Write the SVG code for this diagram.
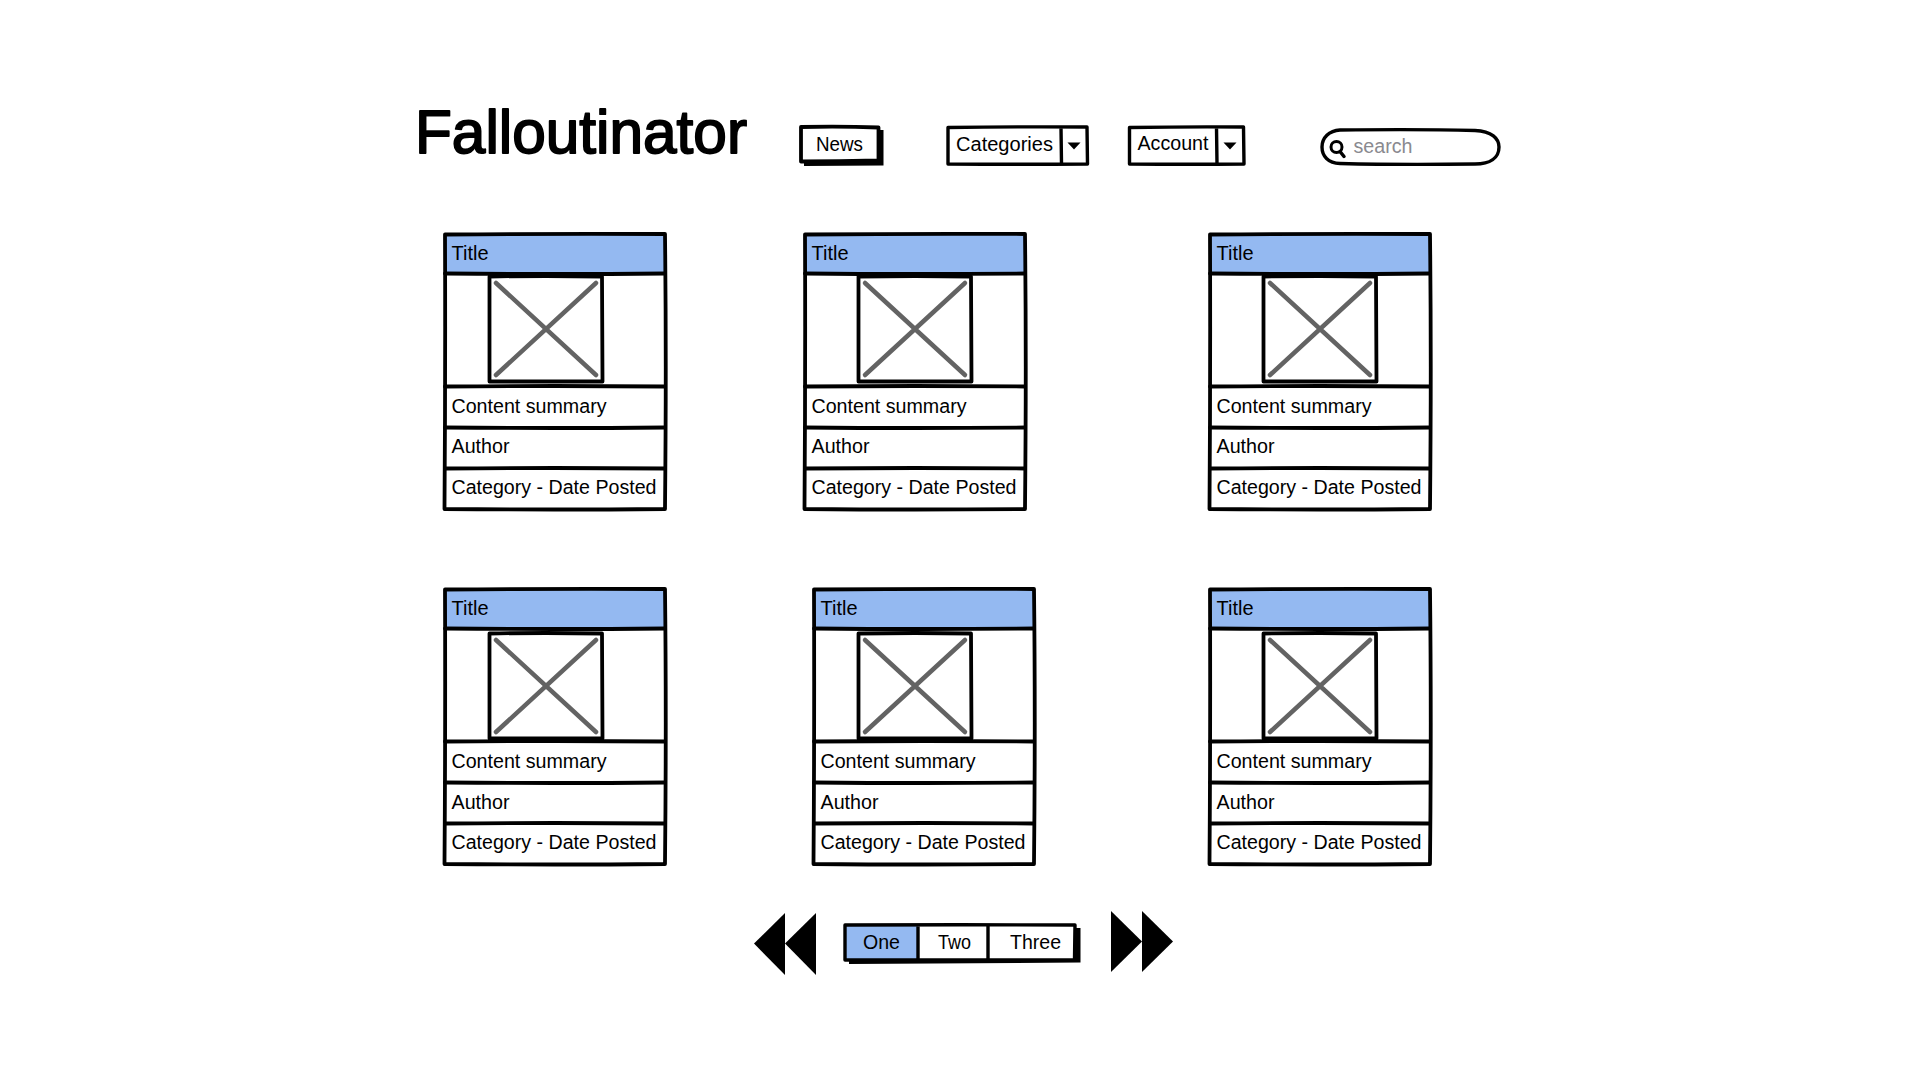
<svg xmlns="http://www.w3.org/2000/svg" width="1920" height="1080" viewBox="0 0 1920 1080">
<style>
text{font-family:"Liberation Sans",Arial,sans-serif;font-size:20px;fill:#000}
.ln{fill:none;stroke:#000;stroke-width:3.4;stroke-linejoin:round;stroke-linecap:round}
.th{stroke-width:3.8}
.wh{fill:#fff}
.bl{fill:#94b9f1}
.x{fill:none;stroke:#636363;stroke-width:4.500;stroke-linecap:round}
.h{font-size:61px;stroke:#000;stroke-width:1.800;stroke-linejoin:round}
</style>
<defs>
<g id="frame">
<path class="wh" d="M1 1L222 1L222 276L1 276Z"/>
<path class="bl" d="M1 1L222 1L222 40L1 40Z"/>
<path class="ln th" d="M1 1.500Q110 0.500 221 1Q222.500 130 221 276Q110 277 0.500 276Q1.500 140 1 1.500Z"/>
<path class="ln th" d="M1 40.500Q110 41.500 221 40.500M1 153.500Q110 152.500 221 153.500M1 194.500Q110 195.500 221 194.500M1 235.500Q110 234.500 221 235.500"/>
</g>
<g id="img">
<path class="wh" d="M0 0H114V106H0Z"/>
<path class="ln th" d="M0.500 0.500Q57 -0.500 113 0.500L113.500 105.500L0.500 105.500Z"/>
<path class="x" d="M7 7L107 99M107 7L7 99"/>
</g>
</defs>

<g id="logo"><text class="h" x="415" y="153" textLength="332" lengthAdjust="spacingAndGlyphs">Falloutinator</text></g>

<g id="news">
<path d="M804 130H883.500V165.500L804 166Z"/>
<path class="wh" d="M801 127H878V161H801Z"/>
<path class="ln th" d="M801 127Q840 126 878.500 127.500L878.500 160.500Q840 161.500 801 161.500Z"/>
<text x="816" y="151" textLength="47" lengthAdjust="spacingAndGlyphs">News</text>
</g>

<g id="categories">
<path class="wh" d="M948 127H1087V164H948Z"/>
<path class="ln" d="M948 127.500Q1020 126.500 1087 127L1087.500 164Q1020 164.500 948 164ZM1061 127.500L1061.500 164"/>
<path d="M1067.500 142.500H1080.500L1074 149.500Z"/>
<text x="956" y="151" textLength="97" lengthAdjust="spacingAndGlyphs">Categories</text>
</g>

<g id="account">
<path class="wh" d="M1129 127H1243V164H1129Z"/>
<path class="ln" d="M1129.500 127.500Q1190 126.500 1243.500 127L1244 164Q1190 164.500 1129.500 164ZM1216.500 127.500L1217 164"/>
<path d="M1223.500 142.500H1236.500L1230 149.500Z"/>
<text x="1137.500" y="150" textLength="71" lengthAdjust="spacingAndGlyphs">Account</text>
</g>

<g id="search">
<path class="wh ln" d="M1340 130Q1420 129 1475 130.500C1492 131 1499 139 1499 147C1499 158 1490 164 1475 164Q1400 165 1340 163.500C1328 163 1322 156 1322 147C1322 138 1329 130.500 1340 130Z"/>
<circle cx="1336.500" cy="147" r="5.500" fill="none" stroke="#000" stroke-width="3"/>
<path d="M1340 151.500L1344 156.500" fill="none" stroke="#000" stroke-width="3.500" stroke-linecap="round"/>
<text x="1353.500" y="153" textLength="59" lengthAdjust="spacingAndGlyphs" style="fill:#8a8a8f">search</text>
</g>

<g id="card-1" transform="translate(444 233)">
<use href="#frame"/><use href="#img" x="45" y="43"/>
<text x="7.500" y="27" textLength="37" lengthAdjust="spacingAndGlyphs">Title</text>
<text x="7.500" y="180" textLength="155" lengthAdjust="spacingAndGlyphs">Content summary</text>
<text x="7.500" y="220" textLength="58" lengthAdjust="spacingAndGlyphs">Author</text>
<text x="7.500" y="261" textLength="205" lengthAdjust="spacingAndGlyphs">Category - Date Posted</text>
</g>
<g id="card-2" transform="translate(804 233)">
<use href="#frame"/><use href="#img" x="54" y="43"/>
<text x="7.500" y="27" textLength="37" lengthAdjust="spacingAndGlyphs">Title</text>
<text x="7.500" y="180" textLength="155" lengthAdjust="spacingAndGlyphs">Content summary</text>
<text x="7.500" y="220" textLength="58" lengthAdjust="spacingAndGlyphs">Author</text>
<text x="7.500" y="261" textLength="205" lengthAdjust="spacingAndGlyphs">Category - Date Posted</text>
</g>
<g id="card-3" transform="translate(1209 233)">
<use href="#frame"/><use href="#img" x="54" y="43"/>
<text x="7.500" y="27" textLength="37" lengthAdjust="spacingAndGlyphs">Title</text>
<text x="7.500" y="180" textLength="155" lengthAdjust="spacingAndGlyphs">Content summary</text>
<text x="7.500" y="220" textLength="58" lengthAdjust="spacingAndGlyphs">Author</text>
<text x="7.500" y="261" textLength="205" lengthAdjust="spacingAndGlyphs">Category - Date Posted</text>
</g>
<g id="card-4" transform="translate(444 588)">
<use href="#frame"/><use href="#img" x="45" y="45"/>
<text x="7.500" y="27" textLength="37" lengthAdjust="spacingAndGlyphs">Title</text>
<text x="7.500" y="180" textLength="155" lengthAdjust="spacingAndGlyphs">Content summary</text>
<text x="7.500" y="221" textLength="58" lengthAdjust="spacingAndGlyphs">Author</text>
<text x="7.500" y="261" textLength="205" lengthAdjust="spacingAndGlyphs">Category - Date Posted</text>
</g>
<g id="card-5" transform="translate(813 588)">
<use href="#frame"/><use href="#img" x="45" y="45"/>
<text x="7.500" y="27" textLength="37" lengthAdjust="spacingAndGlyphs">Title</text>
<text x="7.500" y="180" textLength="155" lengthAdjust="spacingAndGlyphs">Content summary</text>
<text x="7.500" y="221" textLength="58" lengthAdjust="spacingAndGlyphs">Author</text>
<text x="7.500" y="261" textLength="205" lengthAdjust="spacingAndGlyphs">Category - Date Posted</text>
</g>
<g id="card-6" transform="translate(1209 588)">
<use href="#frame"/><use href="#img" x="54" y="45"/>
<text x="7.500" y="27" textLength="37" lengthAdjust="spacingAndGlyphs">Title</text>
<text x="7.500" y="180" textLength="155" lengthAdjust="spacingAndGlyphs">Content summary</text>
<text x="7.500" y="221" textLength="58" lengthAdjust="spacingAndGlyphs">Author</text>
<text x="7.500" y="261" textLength="205" lengthAdjust="spacingAndGlyphs">Category - Date Posted</text>
</g>

<g id="prev">
<path d="M785 913V975L754 943.500Z"/>
<path d="M816 913V975L785 943.500Z"/>
</g>
<g id="pager">
<path d="M849 928H1080.500V962.500L849 964Z"/>
<path class="wh" d="M845 925H1074V960H845Z"/>
<path class="bl" d="M845 925H918V960H845Z"/>
<path class="ln" d="M845 925Q960 924.500 1075 925L1074.500 960Q960 960.500 845 960ZM918 925V960M988 925V960"/>
<text x="863" y="949" textLength="37" lengthAdjust="spacingAndGlyphs">One</text>
<text x="938" y="949" textLength="33" lengthAdjust="spacingAndGlyphs">Two</text>
<text x="1010" y="949" textLength="51" lengthAdjust="spacingAndGlyphs">Three</text>
</g>
<g id="next">
<path d="M1111 911V972L1142 941.500Z"/>
<path d="M1142 911V972L1173 941.500Z"/>
</g>
</svg>
